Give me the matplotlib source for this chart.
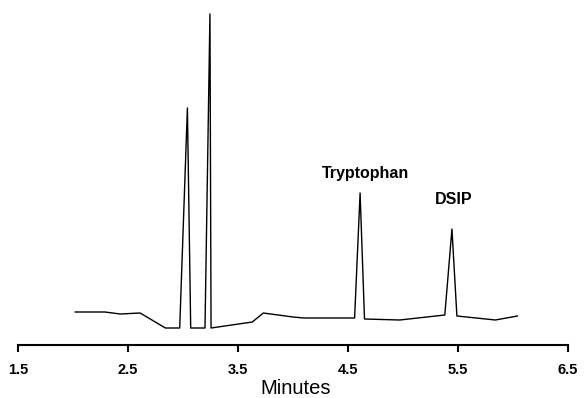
import numpy as np
import matplotlib.pyplot as plt

# Chromatogram trace (minutes, detector response in arbitrary units)
minutes = [2.02, 2.29, 2.43, 2.61, 2.84, 2.97, 3.04, 3.07, 3.20, 3.245,
           3.255, 3.63, 3.73, 4.00, 4.10, 4.56, 4.61, 4.65, 4.97, 5.38,
           5.445, 5.49, 5.84, 6.04]
response = [33, 33, 31, 32, 17, 17, 237, 17, 17, 331,
            17, 23, 32, 28, 27, 27, 152, 26, 25, 30,
            116, 29, 25, 29]

peak_names = ["Tryptophan", "DSIP"]
peak_pos = [4.66, 5.46]
peak_label_y = [167, 141]

tick_vals = [1.5, 2.5, 3.5, 4.5, 5.5, 6.5]

plt.rcParams["font.family"] = ["Liberation Sans", "DejaVu Sans"]

fig = plt.figure(figsize=(5.85, 3.98), dpi=100)
ax = fig.add_axes([18 / 585, 1 - 345 / 398, 550 / 585, 345 / 398])

ax.plot(minutes, response, color="black", linewidth=1.0)

for name, x, y in zip(peak_names, peak_pos, peak_label_y):
    ax.text(x, y, name, ha="center", va="baseline", fontsize=11.5,
            fontweight="bold")

ax.set_xlim(1.5, 6.5)
ax.set_ylim(0, 345)
ax.set_xticks(tick_vals)
ax.set_xticklabels([str(v) for v in tick_vals], fontsize=10.5,
                   fontweight="bold")
ax.set_yticks([])
for side in ["left", "right", "top"]:
    ax.spines[side].set_visible(False)
ax.spines["bottom"].set_linewidth(1.5)
ax.tick_params(axis="x", direction="out", length=5, width=1.5, pad=8)
ax.set_xlabel("Minutes", fontsize=14.5)
ax.xaxis.set_label_coords(0.505, -0.142, transform=ax.transAxes)
ax.xaxis.label.set_va("baseline")
ax.patch.set_alpha(0)

plt.savefig("out.png", dpi=100)
